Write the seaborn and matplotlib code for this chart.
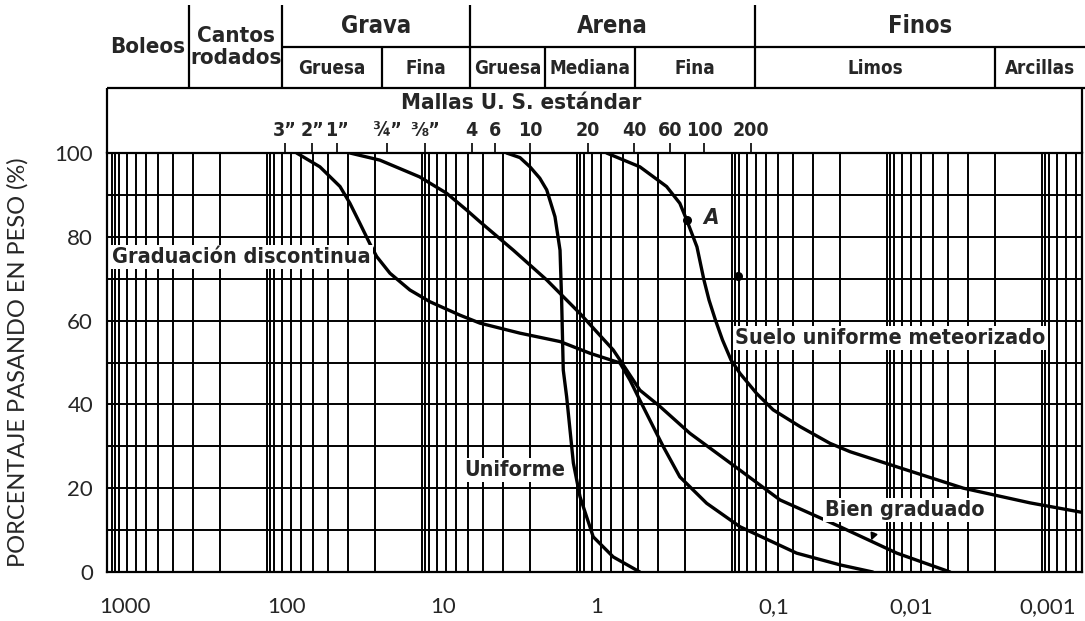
import matplotlib
matplotlib.use("Agg")
import matplotlib.pyplot as plt
import matplotlib.transforms as mtransforms
from matplotlib import font_manager as fm
from matplotlib.ticker import FixedLocator, NullFormatter
import numpy as np
import pandas as pd
import seaborn as sns

# ---------------- data (grain size in mm, percent passing) ----------------
uniforme_d = [2.83, 2.32, 2.0, 1.73, 1.56, 1.38, 1.28, 1.25, 1.22, 1.16, 1.05, 0.952, 0.782, 0.581, 0.391]
uniforme_p = [100, 98.9, 96.7, 94.0, 91.2, 84.8, 76.8, 64.9, 48.2, 41.8, 26, 18, 8.4, 3.6, 0]

discontinua_d = [64.0, 45.3, 33.6, 29.0, 25.0, 21.6, 19.5, 16.0, 11.9, 8.84, 5.66, 4.21, 2.32, 1.28, 0.82,
                 0.526, 0.453, 0.391, 0.321, 0.276, 0.216, 0.145, 0.0884, 0.0381, 0.02, 0.0123]
discontinua_p = [100, 96.7, 92, 88, 83.2, 78.4, 75.3, 71.3, 67.3, 64.5, 61.3, 59.4, 57, 55, 52.2,
                 49.9, 45.8, 41, 34.7, 29.9, 22.7, 16.4, 10.8, 4.5, 1.7, 0]

bien_d = [29.0, 18.6, 10.3, 6.9, 5.13, 4.21, 2.56, 1.56, 0.952, 0.581, 0.476, 0.391, 0.29,
          0.186, 0.0884, 0.0488, 0.02, 0.0086, 0.0039]
bien_p = [100, 98.3, 94.3, 90.4, 86.4, 83.6, 76.8, 69.7, 61.7, 53, 48.2, 43.4, 39.5,
          33.1, 24.3, 17.2, 10.8, 4.5, 0]

meteor_d = [0.641, 0.391, 0.263, 0.216, 0.195, 0.1675, 0.151, 0.140, 0.1272, 0.1147, 0.101, 0.0884,
            0.069, 0.054, 0.0362, 0.0232, 0.0172, 0.0086, 0.0032, 0.00119, 0.000525]
meteor_p = [100, 96.7, 92, 88, 84, 77.6, 69.7, 64.9, 60.1, 55.4, 50.6, 47.4,
            42.6, 38.7, 34.7, 30.7, 28.7, 25.1, 20, 16.5, 14.1]

dots_d = [0.195, 0.0907]
dots_p = [84, 70.6]

x_ticks = [1000, 100, 10, 1, 0.1, 0.01, 0.001]
x_labels = ["1000", "100", "10", "1", "0,1", "0,01", "0,001"]
y_ticks = [0, 20, 40, 60, 80, 100]

mesh_mm = [76.2, 50.8, 35.0, 16.7, 9.525, 4.75, 3.35, 2.0, 0.85, 0.425, 0.25, 0.15, 0.075]
mesh_labels = ["3”", "2”", "1”", "¾”", "⅜”", "4", "6", "10", "20", "40", "60", "100", "200"]

# header classification (boundaries in mm)
full_bounds = [316, 79, 4.9, 0.071]          # lines spanning both header rows
sub_bounds = [18, 1.6, 0.42, 0.002]          # lines in the lower header row
span_cells = [("Boleos", 1070, 316), ("Cantos\nrodados", 316, 79)]
top_cells = [("Grava", 79, 4.9), ("Arena", 4.9, 0.071), ("Finos", 0.071, 0.000525)]
sub_cells = [("Gruesa", 79, 18), ("Fina", 18, 4.9), ("Gruesa", 4.9, 1.6), ("Mediana", 1.6, 0.42),
             ("Fina", 0.42, 0.071), ("Limos", 0.071, 0.002), ("Arcillas", 0.002, 0.000525)]

# ---------------- style ----------------
sns.set_style("white")
plt.rcParams["font.family"] = ["Lato", "DejaVu Sans"]


def pick_condensed(italic=False):
    prefs = ["dejavusanscondensed", "liberationsansnarrow", "notosans-condensed", "notosanscondensed",
             "opensans_condensed", "opensanscondensed", "robotocondensed", "condensed", "narrow"]
    found = []
    for f in fm.fontManager.ttflist:
        fn = f.fname.lower().replace(" ", "")
        base = fn.split("/")[-1]
        if not ("condensed" in base or "narrow" in base):
            continue
        if "bold" not in base or "extra" in base or "semi" in base:
            continue
        is_it = ("italic" in base or "oblique" in base)
        if is_it != italic:
            continue
        for i, p in enumerate(prefs):
            if p in base:
                found.append((i, f.fname))
                break
    if found:
        found.sort()
        return fm.FontProperties(fname=found[0][1])
    return fm.FontProperties(family=["Liberation Sans", "DejaVu Sans"], weight="bold",
                             style="italic" if italic else "normal")


CONDB = pick_condensed(False)
CONDI = pick_condensed(True)


def cp(size, italic=False):
    fp = (CONDI if italic else CONDB).copy()
    fp.set_size(size)
    return fp


W, H = 1085, 621
L, R, T, B = 107, 1082, 153, 572
fig = plt.figure(figsize=(W / 100, H / 100), dpi=100)
ax = fig.add_axes([L / W, 1 - B / H, (R - L) / W, (B - T) / H])
hax = fig.add_axes([L / W, 1 - T / H, (R - L) / W, T / H], sharex=ax)

# ---------------- curves ----------------
frames = []
for name, d, p in [("Uniforme", uniforme_d, uniforme_p),
                   ("Graduación discontinua", discontinua_d, discontinua_p),
                   ("Bien graduado", bien_d, bien_p),
                   ("Suelo uniforme meteorizado", meteor_d, meteor_p)]:
    frames.append(pd.DataFrame({"d": d, "p": p, "curva": name}))
df = pd.concat(frames, ignore_index=True)

sns.lineplot(data=df, x="d", y="p", units="curva", estimator=None, sort=False,
             color="black", lw=2.4, ax=ax, legend=False, zorder=3)
ax.scatter(dots_d, dots_p, s=30, color="black", zorder=4)

ax.set_xscale("log")
ax.set_xlim(1070, 0.00055)
ax.set_ylim(0, 100)

minor_x = [m * 10.0 ** k for k in range(-4, 3) for m in (2, 3, 4, 5, 6, 7, 8, 9, 9.5)]
ax.xaxis.set_major_locator(FixedLocator(x_ticks))
ax.xaxis.set_minor_locator(FixedLocator(minor_x))
ax.xaxis.set_minor_formatter(NullFormatter())
ax.set_xticklabels(x_labels)
ax.yaxis.set_major_locator(FixedLocator(y_ticks))
ax.yaxis.set_minor_locator(FixedLocator([10, 30, 50, 70, 90]))

ax.set_axisbelow(True)
ax.grid(which="both", axis="both", color="black", lw=1.4)
for s in ax.spines.values():
    s.set_color("black")
    s.set_linewidth(1.6)
ax.tick_params(axis="x", which="both", length=0, labelsize=16, pad=18)
ax.tick_params(axis="y", which="both", length=4, width=1.2, color="black", labelsize=16, pad=6)
label_shift_px = [13, 20, 21, 20, 42, 25, 6]
for lab, sh in zip(ax.get_xticklabels(), label_shift_px):
    lab.set_transform(lab.get_transform() + mtransforms.ScaledTranslation(sh / 100, 0, fig.dpi_scale_trans))
ax.set_xlabel("")
ax.set_ylabel("")
fig.text(18 / W, 1 - 362 / H, "PORCENTAJE PASANDO EN PESO (%)", rotation=90,
         ha="center", va="center", fontsize=17)

# curve labels
box = dict(facecolor="white", edgecolor="none", pad=1.5)
ax.text(995, 75.2, "Graduación discontinua", ha="left", va="center",
        fontproperties=cp(15.5), bbox=box, zorder=5)
ax.text(1.19, 24.3, "Uniforme", ha="right", va="center",
        fontproperties=cp(15.5), bbox=box, zorder=5)
ax.text(0.0952, 55.8, "Suelo uniforme meteorizado", ha="left", va="center",
        fontproperties=cp(15.5), bbox=box, zorder=5)
ax.text(0.0249, 14.8, "Bien graduado", ha="left", va="center",
        fontproperties=cp(15.5), bbox=box, zorder=5)
ax.text(0.152, 84.5, "A", ha="left", va="center", fontproperties=cp(16, italic=True), zorder=5)
ax.annotate("", xy=(0.0128, 6.9), xytext=(0.0119, 9.8),
            arrowprops=dict(arrowstyle="-|>", color="black", lw=1.3, mutation_scale=10), zorder=5)

# ---------------- header ----------------
hax.set_ylim(T, 0)
hax.set_axis_off()
lk = dict(color="black", lw=1.6, clip_on=False)
x_left, x_right = 1070, 0.000525
hax.hlines(88, x_left, x_right, **lk)
hax.hlines(47, 79, x_right, **lk)
hax.vlines(full_bounds, 5, 88, **lk)
hax.vlines(sub_bounds, 47, 88, **lk)
hax.vlines([x_left, 0.00055], 88, T, **lk)
hax.vlines(mesh_mm, 143, T, color="black", lw=1.2, clip_on=False)


def gmid(a, b):
    return np.sqrt(a * b)


hk = dict(ha="center", va="center", clip_on=False)
for txt, a, b in span_cells:
    hax.text(gmid(a, b), 47, txt, fontproperties=cp(16), linespacing=1.15, **hk)
for txt, a, b in top_cells:
    hax.text(gmid(a, b), 26, txt, fontproperties=cp(17), **hk)
for txt, a, b in sub_cells:
    hax.text(gmid(a, b), 68, txt, fontproperties=cp(13.5), **hk)
hax.text(2.29, 103, "Mallas U. S. estándar", fontproperties=cp(16), **hk)
for m, lab in zip(mesh_mm, mesh_labels):
    hax.text(m, 131, lab, fontproperties=cp(14), **hk)

fig.savefig("out.png", dpi=100)
